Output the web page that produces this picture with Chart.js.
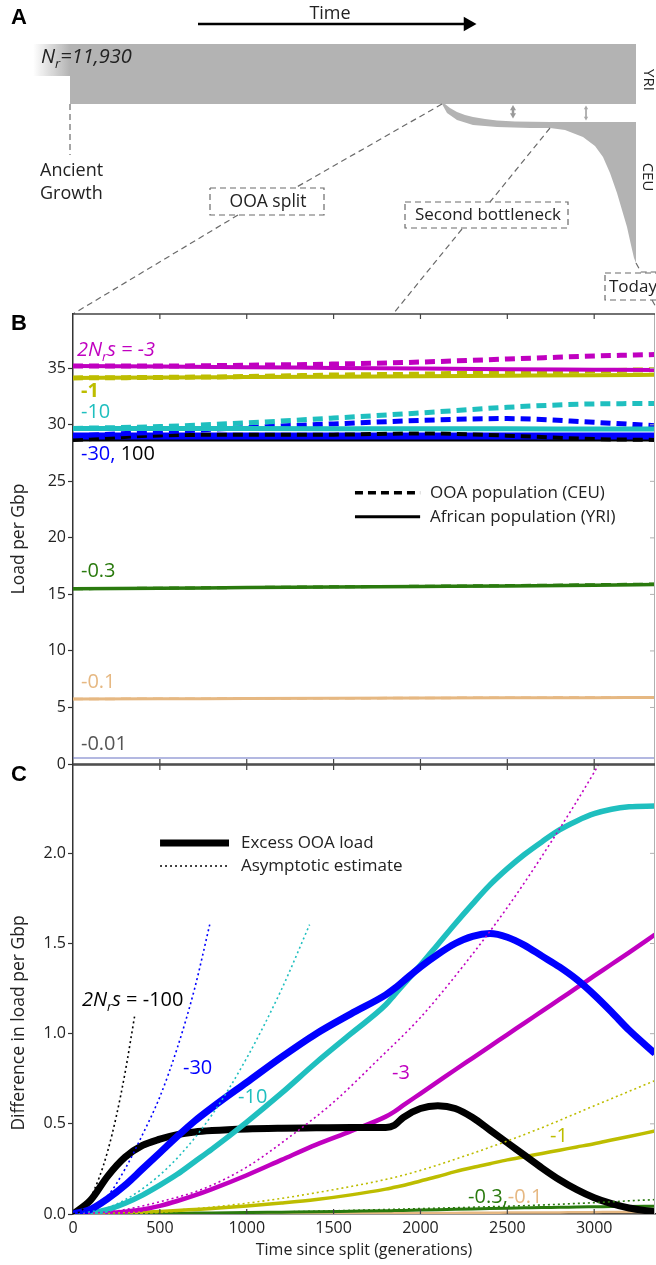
<!DOCTYPE html>
<html>
<head>
<meta charset="utf-8">
<title>Load after the out-of-Africa split</title>
<script src="https://cdn.jsdelivr.net/npm/chart.js@4.4.1/dist/chart.umd.min.js"></script>
<style>
  html, body { margin: 0; padding: 0; background: #fff; }
  #page { position: relative; width: 656px; height: 1265px; overflow: hidden; }
  canvas { position: absolute; left: 0; }
</style>
</head>
<body>
<div id="page">
  <canvas id="panelA" width="656" height="314" style="top:0"></canvas>
  <canvas id="panelB" width="656" height="480" style="top:300px"></canvas>
  <canvas id="panelC" width="656" height="505" style="top:760px"></canvas>
</div>
<script>
// ---- panel B: load per Gbp, CEU (dashed) and YRI (solid) ----
const gensB = [0, 500, 1000, 1500, 2000, 2500, 3000, 3350];
const yriM3 = [35.2, 35.15, 35.1, 35.03, 34.97, 34.92, 34.88, 34.85];
const ceuM3 = [35.2, 35.2, 35.27, 35.37, 35.55, 35.82, 36.08, 36.22];
const yriM1 = [34.15, 34.18, 34.22, 34.26, 34.3, 34.34, 34.38, 34.42];
const ceuM1 = [34.15, 34.19, 34.27, 34.4, 34.48, 34.64, 34.77, 34.88];
const yriM10 = [29.68, 29.68, 29.67, 29.66, 29.65, 29.64, 29.63, 29.62];
const ceuM10 = [29.68, 29.84, 30.17, 30.6, 31.05, 31.55, 31.85, 31.88];
const yriM30 = [29.02, 29.02, 29.02, 29.02, 29.02, 29.02, 29.02, 29.02];
const ceuM30 = [29.02, 29.36, 29.76, 30.08, 30.39, 30.55, 30.22, 29.92];
const yriM100 = [28.65, 28.65, 28.65, 28.65, 28.65, 28.65, 28.65, 28.65];
const ceuM100 = [28.65, 29.06, 29.12, 29.13, 29.24, 29.04, 28.74, 28.66];
const yriM03 = [15.5, 15.55, 15.6, 15.65, 15.7, 15.75, 15.82, 15.88];
const ceuM03 = [15.5, 15.55, 15.61, 15.67, 15.72, 15.78, 15.86, 15.92];
const yriM01 = [5.75, 5.77, 5.79, 5.81, 5.83, 5.85, 5.87, 5.88];
const ceuM01 = [5.75, 5.77, 5.79, 5.81, 5.84, 5.86, 5.88, 5.89];
const yriM001 = [0.53, 0.53, 0.53, 0.53, 0.53, 0.53, 0.53, 0.53];
const ticksB = [0, 5, 10, 15, 20, 25, 30, 35];

// ---- panel C: excess OOA load (solid) ----
const gensC = [0, 100, 200, 300, 400, 500, 600, 700, 800, 1000, 1200, 1400, 1600, 1800, 1850, 1900,
  2000, 2100, 2200, 2300, 2400, 2500, 2600, 2700, 2800, 2900, 3000, 3100, 3200, 3350];
const excessM100 = [0, 0.075, 0.21, 0.315, 0.38, 0.415, 0.44, 0.455, 0.463, 0.472, 0.476, 0.478, 0.48, 0.48, 0.492, 0.535,
  0.585, 0.6, 0.585, 0.535, 0.465, 0.395, 0.325, 0.255, 0.19, 0.135, 0.09, 0.057, 0.033, 0.012];
const excessM30 = [0, 0.025, 0.085, 0.16, 0.25, 0.34, 0.43, 0.515, 0.59, 0.73, 0.87, 1.0, 1.11, 1.215, 1.25, 1.29,
  1.37, 1.44, 1.5, 1.54, 1.555, 1.535, 1.49, 1.43, 1.37, 1.3, 1.215, 1.12, 1.02, 0.89];
const excessM10 = [0, 0.005, 0.025, 0.06, 0.105, 0.16, 0.22, 0.29, 0.36, 0.51, 0.67, 0.84, 1.0, 1.16, 1.215, 1.27,
  1.38, 1.495, 1.61, 1.72, 1.825, 1.915, 1.995, 2.065, 2.13, 2.18, 2.22, 2.245, 2.258, 2.262];
const excessM3 = [0, 0.001, 0.005, 0.013, 0.025, 0.045, 0.072, 0.103, 0.138, 0.215, 0.3, 0.385, 0.46, 0.54, 0.568, 0.602,
  0.668, 0.734, 0.8, 0.865, 0.93, 0.995, 1.06, 1.125, 1.19, 1.255, 1.32, 1.385, 1.45, 1.55];
const excessM1 = [0, 0.001, 0.003, 0.006, 0.01, 0.014, 0.019, 0.025, 0.031, 0.045, 0.061, 0.08, 0.106, 0.138, 0.148, 0.158,
  0.183, 0.208, 0.235, 0.258, 0.279, 0.3, 0.318, 0.336, 0.354, 0.372, 0.39, 0.41, 0.43, 0.46];
const excessM03 = [0, 0, 0, 0.001, 0.002, 0.003, 0.004, 0.005, 0.006, 0.008, 0.01, 0.012, 0.015, 0.018, 0.019, 0.02,
  0.022, 0.024, 0.026, 0.028, 0.03, 0.032, 0.034, 0.036, 0.037, 0.039, 0.04, 0.041, 0.042, 0.043];
const excessM01 = [0, 0, 0, 0, 0, 0.001, 0.001, 0.001, 0.002, 0.002, 0.003, 0.003, 0.004, 0.004, 0.005, 0.005,
  0.005, 0.006, 0.006, 0.007, 0.007, 0.008, 0.008, 0.009, 0.009, 0.01, 0.01, 0.011, 0.011, 0.012];

// ---- panel C: asymptotic estimates (dotted) ----
const asymGensM100 = [0, 50, 100, 150, 200, 250, 300, 356];
const asymM100 = [0, 0.02, 0.09, 0.2, 0.35, 0.545, 0.785, 1.105];
const asymGensM30 = [0, 100, 200, 300, 400, 500, 600, 700, 787];
const asymM30 = [0, 0.025, 0.1, 0.25, 0.44, 0.65, 0.92, 1.25, 1.605];
const asymGensM10 = [0, 200, 400, 600, 800, 1000, 1200, 1362];
const asymM10 = [0, 0.035, 0.14, 0.31, 0.55, 0.865, 1.245, 1.605];
const asymGensM3 = [0, 250, 500, 750, 1000, 1250, 1500, 1750, 2000, 2250, 2500, 2750, 3000, 3040];
const asymM3 = [0, 0.017, 0.068, 0.14, 0.26, 0.43, 0.62, 0.85, 1.09, 1.38, 1.7, 2.06, 2.45, 2.52];
const asymGensM1 = [0, 500, 1000, 1500, 1900, 2250, 2650, 3000, 3350];
const asymM1 = [0, 0.015, 0.06, 0.135, 0.215, 0.32, 0.46, 0.6, 0.74];
const asymGensM03 = [0, 1000, 2000, 2700, 3350];
const asymM03 = [0, 0.008, 0.03, 0.05, 0.08];
const xTicks = [500, 1000, 1500, 2000, 2500, 3000];
const ticksC = [0.5, 1.0, 1.5, 2.0];

// ---- panel A: demographic schematic (time along x, population width along y) ----
const ancientT = [33, 70, 70, 33, 33];
const ancientN = [44, 44, 76, 76, 44];
const yriT = [70, 636, 636, 70, 70];
const yriN = [44, 44, 104, 104, 44];
const ceuT = [442, 445, 450, 457, 465, 473, 485, 497, 515, 550, 636, 636, 634, 631, 627, 622, 617, 610, 603, 595, 583, 565, 550, 530, 497, 473, 457, 447, 442];
const ceuN = [104, 104, 108, 112, 115, 117, 119, 120.5, 121.5, 122, 122, 263, 258, 245, 227, 210, 193, 173, 157, 146, 137, 130, 128, 128, 127, 125, 120, 113, 104];

const MAGENTA = '#c000c0', OLIVE = '#bdbd00', CYAN = '#1fbfbf', BLUE = '#0000ff',
      GREEN = '#2a7a0e', TAN = '#e6b882', SLATE = '#6873c4', GREY = '#b3b3b3';

Chart.defaults.font.family = '"Open Sans", sans-serif';
Chart.defaults.color = '#222';
Chart.defaults.animation = false;
Chart.defaults.plugins.legend.display = false;
Chart.defaults.plugins.tooltip.enabled = false;

const pairs = (xs, ys) => xs.map((x, i) => ({ x: x, y: ys[i] }));

function curve(xs, ys, color, width, dash) {
  return {
    data: pairs(xs, ys), borderColor: color, borderWidth: width, borderDash: dash || [],
    pointRadius: 0, fill: false, cubicInterpolationMode: 'monotone', borderCapStyle: 'butt'
  };
}

// text with italic / subscript pieces
function drawRich(ctx, it) {
  const size = it.size || 16;
  const parts = typeof it.parts === 'string' ? [{ t: it.parts }] : it.parts;
  let w = 0;
  const fonts = parts.map(p => {
    const s = p.sub ? size * 0.65 : size;
    const f = (p.i ? 'italic ' : '') + (p.b || it.bold ? 'bold ' : '') + s + 'px ' + (it.family || '"Open Sans", sans-serif');
    ctx.font = f;
    const pw = ctx.measureText(p.t).width;
    w += pw;
    return { f: f, pw: pw };
  });
  let cx = it.align === 'center' ? -w / 2 : 0;
  ctx.textBaseline = 'middle';
  ctx.textAlign = 'left';
  parts.forEach((p, i) => {
    ctx.font = fonts[i].f;
    ctx.fillStyle = p.c || it.color || '#222';
    ctx.fillText(p.t, cx, p.sub ? size * 0.38 : 0);
    cx += fonts[i].pw;
  });
}

function labelPlugin(items, keys) {
  return {
    id: 'labels',
    afterDraw(chart) {
      const ctx = chart.ctx, sx = chart.scales.x, sy = chart.scales.y;
      const X = v => sx.getPixelForValue(v), Y = v => sy.getPixelForValue(v);
      ctx.save();
      (keys || []).forEach(k => {
        ctx.beginPath();
        ctx.strokeStyle = k.color || '#000';
        ctx.lineWidth = k.width;
        ctx.setLineDash(k.dash || []);
        ctx.moveTo(X(k.x1), Y(k.y));
        ctx.lineTo(X(k.x2), Y(k.y));
        ctx.stroke();
      });
      ctx.setLineDash([]);
      items.forEach(it => {
        ctx.save();
        ctx.translate(it.pix ? it.x : X(it.x), it.pix ? it.y : Y(it.y));
        if (it.rot) ctx.rotate(it.rot * Math.PI / 180);
        drawRich(ctx, it);
        ctx.restore();
      });
      ctx.restore();
    }
  };
}

// box around the plot with inward ticks on top, bottom and right
function framePlugin(opts) {
  return {
    id: 'frame',
    afterDraw(chart) {
      const ctx = chart.ctx, a = chart.chartArea, sx = chart.scales.x, sy = chart.scales.y;
      ctx.save();
      ctx.strokeStyle = '#b0b0b0';
      ctx.lineWidth = 1;
      ctx.beginPath();
      ctx.moveTo(a.right - 0.5, a.top); ctx.lineTo(a.right - 0.5, a.bottom);
      opts.yTicks.forEach(v => { const p = sy.getPixelForValue(v); ctx.moveTo(a.right, p); ctx.lineTo(a.right - 5, p); });
      ctx.stroke();
      ctx.strokeStyle = '#444';
      ctx.lineWidth = 1.5;
      ctx.beginPath();
      ctx.moveTo(a.left, a.top); ctx.lineTo(a.right, a.top);
      if (opts.bottom) { ctx.moveTo(a.left, a.bottom); ctx.lineTo(a.right, a.bottom); }
      ctx.stroke();
      ctx.lineWidth = 1.2;
      ctx.beginPath();
      xTicks.forEach(v => {
        const p = sx.getPixelForValue(v);
        ctx.moveTo(p, a.top); ctx.lineTo(p, a.top + 5);
        ctx.moveTo(p, a.bottom); ctx.lineTo(p, a.bottom - 5);
      });
      ctx.stroke();
      ctx.restore();
    }
  };
}

const fixLeft = s => { s.width = 73; s.paddingTop = 0; s.paddingBottom = 0; };

// ================= panel A =================
const guideLines = [
  [[70, 104], [70, 155]],
  [[442, 104], [295, 188]],
  [[238, 215], [73, 314]],
  [[550, 128], [490, 202]],
  [[462, 229], [393, 314]],
  [[636, 263], [641, 272], [660, 272]],
  [[652, 300], [657, 309]]
];
const boxes = [[210, 188, 324, 215], [405, 202, 568, 228], [605, 273, 662, 300]];

function pathSet(pts, color, width, dash) {
  return { data: pts.map(p => ({ x: p[0], y: p[1] })), showLine: true, borderColor: color, borderWidth: width,
    borderDash: dash || [], pointRadius: 0, fill: false };
}
const setsA = [];
setsA.push({ data: [{ x: 198, y: 24 }, { x: 468, y: 24 }], showLine: true, borderColor: '#000', borderWidth: 2.5,
  pointStyle: 'triangle', pointRadius: [0, 8.5], pointRotation: 90, pointBackgroundColor: '#000', pointBorderWidth: 0 });
setsA.push({ data: [{ x: 513, y: 108.5 }, { x: 513, y: 115 }], showLine: true, borderColor: '#9a9a9a', borderWidth: 2.5,
  pointStyle: 'triangle', pointRadius: 3.5, pointRotation: [0, 180], pointBackgroundColor: '#9a9a9a', pointBorderWidth: 0 });
setsA.push({ data: [{ x: 586, y: 108 }, { x: 586, y: 118 }], showLine: true, borderColor: '#a8a8a8', borderWidth: 1,
  pointStyle: 'triangle', pointRadius: 2.5, pointRotation: [0, 180], pointBackgroundColor: '#a8a8a8', pointBorderWidth: 0 });
guideLines.forEach(g => setsA.push(pathSet(g, '#6a6a6a', 1.2, [6, 4])));
boxes.forEach(b => setsA.push(pathSet([[b[0], b[1]], [b[2], b[1]], [b[2], b[3]], [b[0], b[3]], [b[0], b[1]]], '#6a6a6a', 1.2, [6, 4])));
setsA.push({ data: pairs(ceuT, ceuN), showLine: true, borderWidth: 0, borderColor: GREY, backgroundColor: GREY, fill: 'shape', pointRadius: 0 });
setsA.push({ data: pairs(yriT, yriN), showLine: true, borderWidth: 0, borderColor: GREY, backgroundColor: GREY, fill: 'shape', pointRadius: 0 });
setsA.push({ data: pairs(ancientT, ancientN), showLine: true, borderWidth: 0, borderColor: 'rgba(0,0,0,0)', fill: 'shape', pointRadius: 0,
  backgroundColor: c => {
    const ch = c.chart;
    if (!ch.chartArea) return GREY;
    const g = ch.ctx.createLinearGradient(ch.scales.x.getPixelForValue(33), 0, ch.scales.x.getPixelForValue(70), 0);
    g.addColorStop(0, 'rgba(179,179,179,0)');
    g.addColorStop(1, GREY);
    return g;
  } });

const labelsA = [
  { x: 19, y: 18, parts: 'A', size: 22, bold: true, align: 'center', family: '"Liberation Sans", Arial, sans-serif', color: '#000' },
  { x: 330, y: 14, parts: 'Time', size: 18, align: 'center' },
  { x: 41, y: 57, size: 20, parts: [{ t: 'N', i: true }, { t: 'r', i: true, sub: true }, { t: '=11,930', i: true }] },
  { x: 648, y: 80, parts: 'YRI', size: 15, align: 'center', rot: 90 },
  { x: 647, y: 177, parts: 'CEU', size: 15, align: 'center', rot: 90 },
  { x: 40, y: 171, parts: 'Ancient', size: 18 },
  { x: 40, y: 194, parts: 'Growth', size: 18 },
  { x: 268, y: 202, parts: 'OOA split', size: 17.5, align: 'center' },
  { x: 488, y: 215, parts: 'Second bottleneck', size: 17, align: 'center' },
  { x: 609, y: 287, parts: 'Today', size: 17 }
];

new Chart(document.getElementById('panelA'), {
  type: 'scatter',
  data: { datasets: setsA },
  options: {
    responsive: false, events: [],
    layout: { padding: 0, autoPadding: false },
    scales: {
      x: { type: 'linear', min: 0, max: 656, display: false },
      y: { type: 'linear', min: 0, max: 314, reverse: true, display: false }
    }
  },
  plugins: [labelPlugin(labelsA)]
});

// ================= panel B =================
const DASH = [10, 6];
const labelsB = [
  { pix: true, x: 19, y: 24, parts: 'B', size: 22, bold: true, align: 'center', family: '"Liberation Sans", Arial, sans-serif', color: '#000' },
  { pix: true, x: 19, y: 239, parts: 'Load per Gbp', size: 17.5, align: 'center', rot: -90 },
  { x: 23, y: 36.6, size: 20, color: MAGENTA, parts: [{ t: '2N', i: true }, { t: 'r', i: true, sub: true }, { t: 's = -3', i: true }] },
  { x: 46, y: 33.0, size: 20, color: OLIVE, bold: true, parts: '-1' },
  { x: 46, y: 31.1, size: 20, color: CYAN, parts: '-10' },
  { x: 46, y: 27.35, size: 20, parts: [{ t: '-30,', c: BLUE }, { t: ' 100', c: '#000' }] },
  { x: 46, y: 17.0, size: 20, color: GREEN, parts: '-0.3' },
  { x: 46, y: 7.26, size: 20, color: TAN, parts: '-0.1' },
  { x: 46, y: 1.77, size: 20, color: '#555', parts: '-0.01' },
  { x: 2055, y: 23.98, size: 17, parts: 'OOA population (CEU)' },
  { x: 2055, y: 21.86, size: 17, parts: 'African population (YRI)' }
];
const keysB = [
  { x1: 1623, x2: 1998, y: 23.98, width: 3.5, dash: [8, 5] },
  { x1: 1623, x2: 1998, y: 21.86, width: 3 }
];

new Chart(document.getElementById('panelB'), {
  type: 'line',
  data: { datasets: [
    curve(gensB, ceuM3, MAGENTA, 5, DASH),
    curve(gensB, yriM3, MAGENTA, 4),
    curve(gensB, ceuM1, OLIVE, 5, DASH),
    curve(gensB, yriM1, OLIVE, 4),
    curve(gensB, ceuM10, CYAN, 5, DASH),
    curve(gensB, yriM10, CYAN, 5),
    curve(gensB, ceuM30, BLUE, 5, DASH),
    curve(gensB, ceuM100, '#000', 4, DASH),
    curve(gensB, yriM30, BLUE, 7),
    curve(gensB, yriM100, '#000', 3),
    curve(gensB, ceuM03, GREEN, 3, DASH),
    curve(gensB, yriM03, GREEN, 3.5),
    curve(gensB, ceuM01, TAN, 2.5, DASH),
    curve(gensB, yriM01, TAN, 3),
    curve(gensB, yriM001, SLATE, 1.2)
  ] },
  options: {
    responsive: false, events: [],
    layout: { padding: { top: 14, bottom: 16, left: 0, right: 1 }, autoPadding: false },
    scales: {
      x: { type: 'linear', min: 0, max: 3350, display: false },
      y: {
        type: 'linear', min: 0, max: 39.8, afterFit: fixLeft,
        afterBuildTicks: s => { s.ticks = ticksB.map(v => ({ value: v })); },
        ticks: { padding: 2, font: { size: 16 }, color: '#222' },
        grid: { drawOnChartArea: false, tickLength: 5, tickColor: '#333', tickWidth: 1.2 },
        border: { color: '#333', width: 1.5 }
      }
    }
  },
  plugins: [framePlugin({ bottom: true, yTicks: ticksB.slice(1) }), labelPlugin(labelsB, keysB)]
});

// ================= panel C =================
const DOT = [2, 3];
const labelsC = [
  { pix: true, x: 19, y: 15, parts: 'C', size: 22, bold: true, align: 'center', family: '"Liberation Sans", Arial, sans-serif', color: '#000' },
  { pix: true, x: 19, y: 263, parts: 'Difference in load per Gbp', size: 17.5, align: 'center', rot: -90 },
  { x: 52, y: 1.187, size: 20, color: '#000', parts: [{ t: '2N', i: true }, { t: 'r', i: true, sub: true }, { t: 's', i: true }, { t: ' = -100' }] },
  { x: 633, y: 0.81, size: 20, color: BLUE, parts: '-30' },
  { x: 950, y: 0.649, size: 20, color: CYAN, parts: '-10' },
  { x: 1836, y: 0.782, size: 20, color: MAGENTA, parts: '-3' },
  { x: 2746, y: 0.433, size: 20, color: OLIVE, parts: '-1' },
  { x: 2274, y: 0.094, size: 20, parts: [{ t: '-0.3,', c: GREEN }, { t: '-0.1', c: TAN }] },
  { x: 967, y: 2.058, size: 17, parts: 'Excess OOA load' },
  { x: 967, y: 1.93, size: 17, parts: 'Asymptotic estimate' }
];
const keysC = [
  { x1: 501, x2: 898, y: 2.058, width: 7 },
  { x1: 501, x2: 898, y: 1.93, width: 1.3, dash: [2, 3] }
];

new Chart(document.getElementById('panelC'), {
  type: 'line',
  data: { datasets: [
    curve(asymGensM100, asymM100, '#000', 1.6, DOT),
    curve(asymGensM30, asymM30, BLUE, 1.6, DOT),
    curve(asymGensM10, asymM10, CYAN, 1.6, DOT),
    curve(asymGensM3, asymM3, MAGENTA, 1.6, DOT),
    curve(asymGensM1, asymM1, OLIVE, 1.6, DOT),
    curve(asymGensM03, asymM03, GREEN, 1.6, DOT),
    curve(gensC, excessM30, BLUE, 7),
    curve(gensC, excessM10, CYAN, 5.5),
    curve(gensC, excessM100, '#000', 7),
    curve(gensC, excessM3, MAGENTA, 4.5),
    curve(gensC, excessM1, OLIVE, 3.5),
    curve(gensC, excessM03, GREEN, 3),
    curve(gensC, excessM01, TAN, 2.5)
  ] },
  options: {
    responsive: false, events: [],
    layout: { padding: { top: 5, bottom: 0, left: 0, right: 1 }, autoPadding: false },
    scales: {
      x: {
        type: 'linear', min: 0, max: 3350,
        afterFit: s => { s.height = 51; s.paddingLeft = 0; s.paddingRight = 0; },
        afterBuildTicks: s => { s.ticks = [0].concat(xTicks).map(v => ({ value: v })); },
        ticks: { padding: 5, font: { size: 16 }, color: '#222', maxRotation: 0, autoSkip: false, callback: v => String(v) },
        grid: { drawOnChartArea: false, drawTicks: false },
        border: { color: '#333', width: 1.5 },
        title: { display: true, text: 'Time since split (generations)', font: { size: 16 }, color: '#222', padding: { top: 0, bottom: 5 } }
      },
      y: {
        type: 'linear', min: 0, max: 2.49, afterFit: fixLeft,
        afterBuildTicks: s => { s.ticks = [0].concat(ticksC).map(v => ({ value: v })); },
        ticks: { padding: 2, font: { size: 16 }, color: '#222', callback: v => v.toFixed(1) },
        grid: { drawOnChartArea: false, tickLength: 5, tickColor: '#333', tickWidth: 1.2 },
        border: { color: '#333', width: 1.5 }
      }
    }
  },
  plugins: [framePlugin({ bottom: false, yTicks: ticksC }), labelPlugin(labelsC, keysC)]
});
</script>
</body>
</html>
